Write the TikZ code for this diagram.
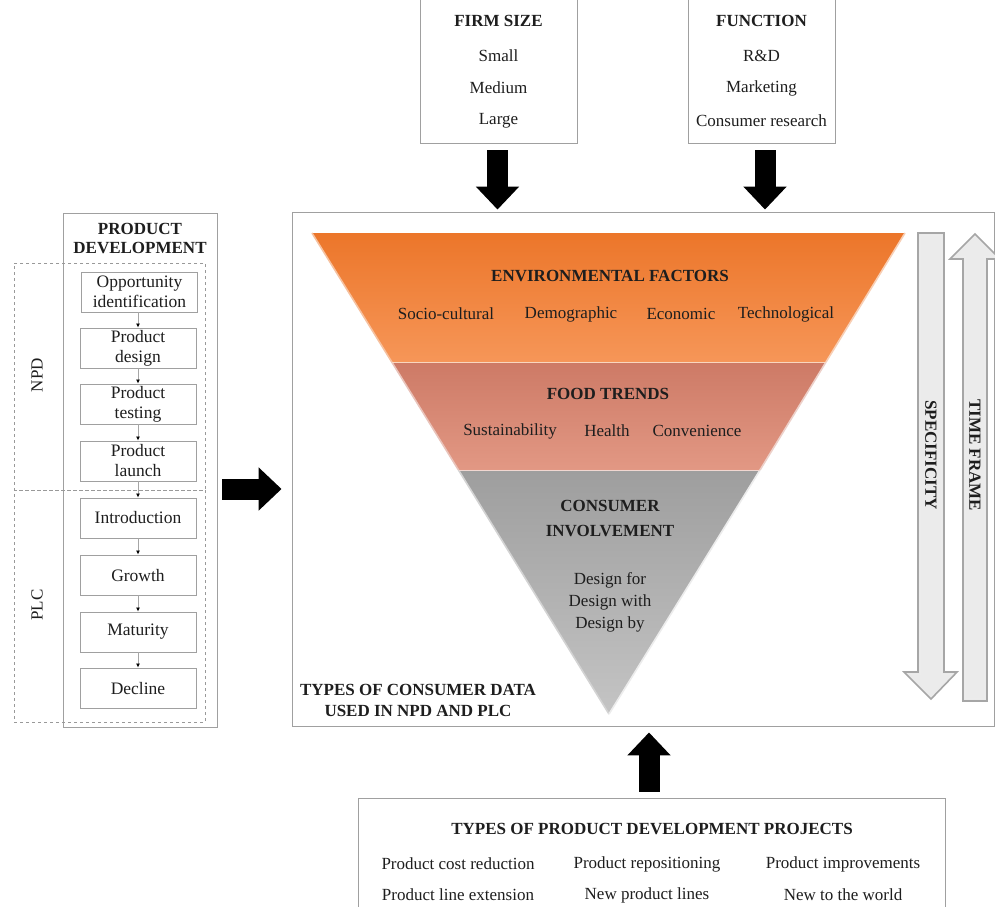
\documentclass[tikz,border=0pt]{standalone}
\usepackage{fontspec}
\setmainfont{Liberation Serif}
\usetikzlibrary{arrows.meta,calc}
\definecolor{txt}{RGB}{30,30,30}
\definecolor{boxline}{RGB}{160,160,160}
\definecolor{orA}{RGB}{236,118,42}
\definecolor{orB}{RGB}{246,150,88}
\definecolor{roA}{RGB}{205,122,102}
\definecolor{roB}{RGB}{226,152,132}
\definecolor{grA}{RGB}{158,158,158}
\definecolor{grB}{RGB}{196,196,196}
\tikzset{
  lbl/.style={text=txt, inner sep=0pt, font=\fontsize{17}{21}\selectfont},
  blbl/.style={lbl, font=\fontsize{17}{21}\selectfont\bfseries},
  plainbox/.style={draw=boxline, line width=0.9pt, fill=white},
  stepbox/.style={plainbox, minimum width=116pt, minimum height=40pt, align=center, text=txt, inner sep=1pt, font=\fontsize{17.5}{20}\selectfont},
  dashbox/.style={draw=gray!80, dashed, line width=0.9pt},
  fatarrow/.style={line width=21pt, black, -{Triangle[width=42pt,length=23pt]}},
  smallarr/.style={draw=gray!70, line width=0.8pt, -{Latex[length=4pt,width=4pt,black]}},
  hollow/.style={draw=gray!70, line width=1.6pt, fill=gray!16},
  hollowin/.style={draw=white!85!gray, line width=0.6pt},
}
\begin{document}
\begin{tikzpicture}[x=1pt,y=-1pt]
\useasboundingbox (0,0) rectangle (995,906);

% ---------- top boxes ----------
\path[plainbox] (420,-10) rectangle (577,143);
\node[minimum width=157pt, minimum height=153pt, inner sep=0pt] (firm) at (498.5,66.5) {};
\node[blbl] at (498.5,21) {FIRM SIZE};
\node[lbl] at (498.5,56) {Small};
\node[lbl] at (498.5,88) {Medium};
\node[lbl] at (498.5,121) {Large};

\path[plainbox] (688,-10) rectangle (835,143);
\node[minimum width=147pt, minimum height=153pt, inner sep=0pt] (func) at (761.5,66.5) {};
\node[blbl] at (761.5,21) {FUNCTION};
\node[lbl] at (761.5,56) {R\&D};
\node[lbl] at (761.5,88) {Marketing};
\node[lbl] at (761.5,121) {Consumer research};

% ---------- main box ----------
\node[plainbox, minimum width=702pt, minimum height=514pt, inner sep=0pt] (main) at (643,469) {};

% fat arrows from the top boxes
\coordinate (fa) at (497.5,143);
\coordinate (fb) at (765,143);
\draw[fatarrow, shorten <=7pt, shorten >=2pt] (fa) -- (fa |- main.north);
\draw[fatarrow, shorten <=7pt, shorten >=2pt] (fb) -- (fb |- main.north);

% ---------- inverted triangle ----------
\coordinate (tl) at (312,233);
\coordinate (tr) at (905,233);
\coordinate (l1) at (391.8,362);
\coordinate (r1) at (826,362);
\coordinate (l2) at (458.5,470);
\coordinate (r2) at (760,470);
\coordinate (apex) at (609,714);
\shade[top color=orA, bottom color=orB] (tl) -- (tr) -- (r1) -- (l1) -- cycle;
\shade[top color=roA, bottom color=roB] (l1) -- (r1) -- (r2) -- (l2) -- cycle;
\shade[top color=grA, bottom color=grB] (l2) -- (r2) -- (apex) -- cycle;
\draw[line width=1.6pt, white!55!orA] (tl) -- (l1);
\draw[line width=1.6pt, white!65!orA] (tr) -- (r1);
\draw[line width=1.6pt, white!55!roA] (l1) -- (l2);
\draw[line width=1.6pt, white!65!roA] (r1) -- (r2);
\draw[line width=1.6pt, white!55!grA] (l2) -- (apex);
\draw[line width=1.6pt, white!80!grA] (r2) -- (apex);
\draw[line width=0.8pt, white!70!orA] (l1) -- (r1);
\draw[line width=0.8pt, white!70!roA] (l2) -- (r2);

\node[blbl] (env) at (610,276) {ENVIRONMENTAL FACTORS};
\node[lbl] at (446,314) {Socio-cultural};
\node[lbl] at (571,314) {Demographic};
\node[lbl] at (681,314) {Economic};
\node[lbl] at (786,314) {Technological};

\node[blbl] (food) at (608,394) {FOOD TRENDS};
\node[lbl] at (510,431) {Sustainability};
\node[lbl] at (607,431) {Health};
\node[lbl] at (697,431) {Convenience};

\node[blbl, align=center, font=\fontsize{17}{25}\selectfont\bfseries] (cons) at (610,518) {CONSUMER\\INVOLVEMENT};
\node[lbl, align=center, font=\fontsize{17}{22}\selectfont] (design) at (610,602) {Design for\\Design with\\Design by};

\node[blbl, align=center, font=\fontsize{17}{21}\selectfont\bfseries] (types) at (418,700) {TYPES OF CONSUMER DATA\\USED IN NPD AND PLC};

% ---------- specificity / time frame ----------
\draw[hollow] (918,233) -- (944,233) -- (944,672) -- (957,672) -- (931,699) -- (904,672) -- (918,672) -- cycle;
\draw[hollowin] (920.5,235.5) -- (941.5,235.5) -- (941.5,674.5) -- (951,674.5) -- (931,695) -- (910,674.5) -- (920.5,674.5) -- cycle;
\node[blbl, rotate=-90] (spec) at (931,455) {SPECIFICITY};
\draw[hollow] (963,701) -- (987,701) -- (987,259) -- (1000,259) -- (975,234) -- (950,259) -- (963,259) -- cycle;
\draw[hollowin] (965.5,698.5) -- (984.5,698.5) -- (984.5,256.5) -- (994,256.5) -- (975,238) -- (956,256.5) -- (965.5,256.5) -- cycle;
\node[blbl, rotate=-90] (time) at (975,455) {TIME FRAME};

% ---------- product development column ----------
\node[plainbox, minimum width=154pt, minimum height=514pt, inner sep=0pt] (pd) at (140,470) {};
\node[blbl, align=center, font=\fontsize{17}{19}\selectfont\bfseries] (pdt) at (140,238) {PRODUCT\\DEVELOPMENT};
\node[dashbox, minimum width=191pt, minimum height=227pt, inner sep=0pt] (npd) at (109.5,376.5) {};
\node[dashbox, minimum width=191pt, minimum height=232pt, inner sep=0pt] (plc) at (109.5,606) {};
\node[lbl, rotate=90] at (37,375) {NPD};
\node[lbl, rotate=90] at (37,605) {PLC};

\node[stepbox] (s1) at (139.5,292) {Opportunity\\identification};
\node[stepbox] (s2) at (138,348) {Product\\design};
\node[stepbox] (s3) at (138,404) {Product\\testing};
\node[stepbox] (s4) at (138,461) {Product\\launch};
\node[stepbox] (s5) at (138,518) {Introduction};
\node[stepbox] (s6) at (138,575) {Growth};
\node[stepbox] (s7) at (138,632) {Maturity};
\node[stepbox] (s8) at (138,688) {Decline};
\foreach \a/\b in {s1/s2,s2/s3,s3/s4,s4/s5,s5/s6,s6/s7,s7/s8}
  \draw[smallarr] (\a.south -| s2.south) -- (\b.north);

% fat arrow into main box
\draw[fatarrow, shorten <=5pt, shorten >=10pt] (pd.east |- 0,489) -- (main.west |- 0,489);

% ---------- bottom box ----------
\path[plainbox] (358,798) rectangle (945,920);
\node[minimum width=587pt, minimum height=122pt, inner sep=0pt] (proj) at (651.5,859) {};
\node[blbl] at (652,829) {TYPES OF PRODUCT DEVELOPMENT PROJECTS};
\node[lbl] at (458,864) {Product cost reduction};
\node[lbl] at (647,864) {Product repositioning};
\node[lbl] at (843,864) {Product improvements};
\node[lbl] at (458,895) {Product line extension};
\node[lbl] at (647,895) {New product lines};
\node[lbl] at (843,895) {New to the world};

\draw[fatarrow, shorten <=6pt, shorten >=6pt] (proj.north -| 649,0) -- (main.south -| 649,0);
\end{tikzpicture}
\end{document}
